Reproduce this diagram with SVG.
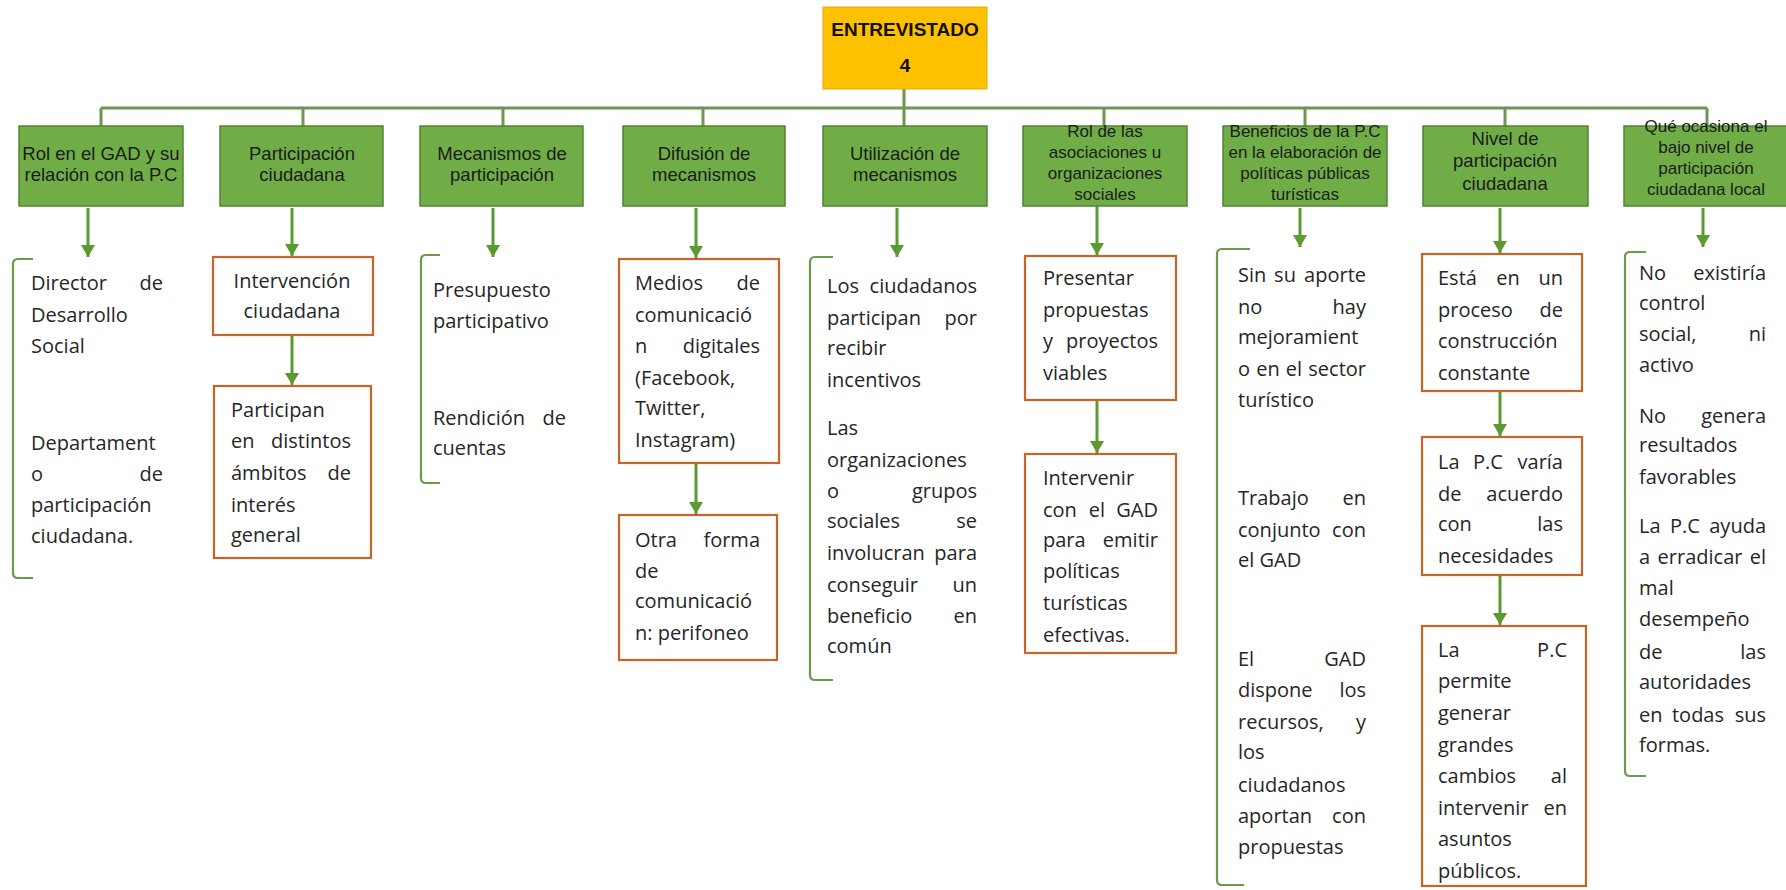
<svg xmlns="http://www.w3.org/2000/svg" width="1786" height="890" viewBox="0 0 1786 890">
<style>
.bg{fill:#ffffff}
.hb{fill:#70AD47;stroke:#548235;stroke-width:1.5}
.top{fill:#FFC000;stroke:#E6AC00;stroke-width:1}
.ob{fill:#ffffff;stroke:#C8642A;stroke-width:2.2}
.h{font-family:"Liberation Sans",Arial,sans-serif;font-size:18.5px;fill:#1b1b1b;text-anchor:middle}
.h4{font-family:"Liberation Sans",Arial,sans-serif;font-size:17px;fill:#1b1b1b;text-anchor:middle}
.tt{font-family:"Liberation Sans",Arial,sans-serif;font-size:19px;font-weight:bold;fill:#111;text-anchor:middle}
.t{font-family:"Open Sans","Liberation Sans",sans-serif;font-size:20px;fill:#262626}
.e{text-anchor:end}
.m{text-anchor:middle}
.bus{fill:none;stroke:#6E9652;stroke-width:3}
.arr{fill:none;stroke:#5B9A30;stroke-width:3;marker-end:url(#ah)}
.br{fill:none;stroke:#6A9A4A;stroke-width:2.2}
</style>
<defs>
<marker id="ah" markerUnits="userSpaceOnUse" markerWidth="14" markerHeight="14" refX="12" refY="7" orient="auto">
<path d="M0,0 L12,7 L0,14 z" fill="#5B9A30"/>
</marker>
</defs>
<rect class="bg" x="0" y="0" width="1786" height="890"/>

<g id="connectors">
<path class="bus" d="M904,89 V108 M101,108 H1707 M101,108 V126 M303,108 V126 M503,108 V126 M703,108 V126 M904,108 V126 M1104,108 V126 M1305,108 V126 M1505,108 V126 M1707,108 V126"/>
<path class="arr" d="M88,208 V257"/>
<path class="arr" d="M292,208 V256"/>
<path class="arr" d="M292,336 V385"/>
<path class="arr" d="M493,208 V257"/>
<path class="arr" d="M696,208 V258"/>
<path class="arr" d="M696,464 V514"/>
<path class="arr" d="M897,208 V257"/>
<path class="arr" d="M1097,206 V255"/>
<path class="arr" d="M1097,401 V453"/>
<path class="arr" d="M1300,208 V247"/>
<path class="arr" d="M1500,208 V253"/>
<path class="arr" d="M1500,392 V436"/>
<path class="arr" d="M1500,576 V625"/>
<path class="arr" d="M1703,208 V247"/>
<path class="br" d="M33,259 H18 Q13,259 13,264 V573 Q13,578 18,578 H33"/>
<path class="br" d="M440,255 H426 Q421,255 421,260 V478 Q421,483 426,483 H440"/>
<path class="br" d="M833,257 H815 Q810,257 810,262 V675 Q810,680 815,680 H833"/>
<path class="br" d="M1250,249 H1222 Q1217,249 1217,254 V880 Q1217,885 1222,885 H1244"/>
<path class="br" d="M1646,252 H1630 Q1625,252 1625,257 V771 Q1625,776 1630,776 H1646"/>
</g>

<g id="root">
<rect class="top" x="823" y="7" width="164" height="82"/>
<text class="tt" x="905" y="36">ENTREVISTADO</text>
<text class="tt" x="905" y="72">4</text>
</g>

<g id="h1"><rect class="hb" x="19" y="126" width="164" height="80"/>
<text class="h" x="101" y="160">Rol en el GAD y su</text><text class="h" x="101" y="181">relación con la P.C</text></g>
<g id="h2"><rect class="hb" x="220" y="126" width="163" height="80"/>
<text class="h" x="302" y="160">Participación</text><text class="h" x="302" y="181">ciudadana</text></g>
<g id="h3"><rect class="hb" x="420" y="126" width="163" height="80"/>
<text class="h" x="502" y="160">Mecanismos de</text><text class="h" x="502" y="181">participación</text></g>
<g id="h4"><rect class="hb" x="623" y="126" width="162" height="80"/>
<text class="h" x="704" y="160">Difusión de</text><text class="h" x="704" y="181">mecanismos</text></g>
<g id="h5"><rect class="hb" x="823" y="126" width="164" height="80"/>
<text class="h" x="905" y="160">Utilización de</text><text class="h" x="905" y="181">mecanismos</text></g>
<g id="h6"><rect class="hb" x="1023" y="126" width="164" height="80"/>
<text class="h4" x="1105" y="137">Rol de las</text><text class="h4" x="1105" y="158">asociaciones u</text><text class="h4" x="1105" y="179">organizaciones</text><text class="h4" x="1105" y="200">sociales</text></g>
<g id="h7"><rect class="hb" x="1223" y="126" width="164" height="80"/>
<text class="h4" x="1305" y="137">Beneficios de la P.C</text><text class="h4" x="1305" y="158">en la elaboración de</text><text class="h4" x="1305" y="179">políticas públicas</text><text class="h4" x="1305" y="200">turísticas</text></g>
<g id="h8"><rect class="hb" x="1423" y="126" width="165" height="80"/>
<text class="h" x="1505" y="145">Nivel de</text><text class="h" x="1505" y="167">participación</text><text class="h" x="1505" y="190">ciudadana</text></g>
<g id="h9"><rect class="hb" x="1624" y="126" width="166" height="80"/>
<text class="h4" x="1706" y="132">Qué ocasiona el</text><text class="h4" x="1706" y="153">bajo nivel de</text><text class="h4" x="1706" y="174">participación</text><text class="h4" x="1706" y="195">ciudadana local</text></g>

<g id="c1">
<text class="t" x="31" y="290">Director</text><text class="t e" x="163" y="290">de</text>
<text class="t" x="31" y="322">Desarrollo</text>
<text class="t" x="31" y="353">Social</text>
<text class="t" x="31" y="450">Departament</text>
<text class="t" x="31" y="481">o</text><text class="t e" x="163" y="481">de</text>
<text class="t" x="31" y="512">participación</text>
<text class="t" x="31" y="543">ciudadana.</text>
</g>

<g id="c2a"><rect class="ob" x="213" y="257" width="160" height="78"/>
<text class="t m" x="292" y="288">Intervención</text><text class="t m" x="292" y="318">ciudadana</text></g>
<g id="c2b"><rect class="ob" x="214" y="386" width="157" height="172"/>
<text class="t" x="231" y="417">Participan</text>
<text class="t" x="231" y="448">en</text><text class="t e" x="351" y="448">distintos</text>
<text class="t" x="231" y="480">ámbitos</text><text class="t e" x="351" y="480">de</text>
<text class="t" x="231" y="512">interés</text>
<text class="t" x="231" y="542">general</text></g>

<g id="c3">
<text class="t" x="433" y="297">Presupuesto</text>
<text class="t" x="433" y="328">participativo</text>
<text class="t" x="433" y="425">Rendición</text><text class="t e" x="566" y="425">de</text>
<text class="t" x="433" y="455">cuentas</text>
</g>

<g id="c4a"><rect class="ob" x="619" y="259" width="160" height="204"/>
<text class="t" x="635" y="290">Medios</text><text class="t e" x="760" y="290">de</text>
<text class="t" x="635" y="322">comunicació</text>
<text class="t" x="635" y="353">n</text><text class="t e" x="760" y="353">digitales</text>
<text class="t" x="635" y="385">(Facebook,</text>
<text class="t" x="635" y="415">Twitter,</text>
<text class="t" x="635" y="447">Instagram)</text></g>
<g id="c4b"><rect class="ob" x="619" y="515" width="158" height="145"/>
<text class="t" x="635" y="547">Otra</text><text class="t e" x="760" y="547">forma</text>
<text class="t" x="635" y="578">de</text>
<text class="t" x="635" y="608">comunicació</text>
<text class="t" x="635" y="640">n: perifoneo</text></g>

<g id="c5">
<text class="t" x="827" y="293">Los</text><text class="t e" x="977" y="293">ciudadanos</text>
<text class="t" x="827" y="325">participan</text><text class="t e" x="977" y="325">por</text>
<text class="t" x="827" y="355">recibir</text>
<text class="t" x="827" y="387">incentivos</text>
<text class="t" x="827" y="435">Las</text>
<text class="t" x="827" y="467">organizaciones</text>
<text class="t" x="827" y="498">o</text><text class="t e" x="977" y="498">grupos</text>
<text class="t" x="827" y="528">sociales</text><text class="t e" x="977" y="528">se</text>
<text class="t" x="827" y="560">involucran</text><text class="t e" x="977" y="560">para</text>
<text class="t" x="827" y="592">conseguir</text><text class="t e" x="977" y="592">un</text>
<text class="t" x="827" y="623">beneficio</text><text class="t e" x="977" y="623">en</text>
<text class="t" x="827" y="653">común</text>
</g>

<g id="c6a"><rect class="ob" x="1025" y="256" width="151" height="144"/>
<text class="t" x="1043" y="285">Presentar</text>
<text class="t" x="1043" y="317">propuestas</text>
<text class="t" x="1043" y="348">y</text><text class="t e" x="1158" y="348">proyectos</text>
<text class="t" x="1043" y="380">viables</text></g>
<g id="c6b"><rect class="ob" x="1025" y="454" width="151" height="199"/>
<text class="t" x="1043" y="485">Intervenir</text>
<text class="t" x="1043" y="517">con</text><text class="t m" x="1097" y="517">el</text><text class="t e" x="1158" y="517">GAD</text>
<text class="t" x="1043" y="547">para</text><text class="t e" x="1158" y="547">emitir</text>
<text class="t" x="1043" y="578">políticas</text>
<text class="t" x="1043" y="610">turísticas</text>
<text class="t" x="1043" y="642">efectivas.</text></g>

<g id="c7">
<text class="t" x="1238" y="282">Sin</text><text class="t m" x="1285" y="282">su</text><text class="t e" x="1366" y="282">aporte</text>
<text class="t" x="1238" y="314">no</text><text class="t e" x="1366" y="314">hay</text>
<text class="t" x="1238" y="344">mejoramient</text>
<text class="t" x="1238" y="376">o</text><text class="t m" x="1268" y="376">en</text><text class="t m" x="1294" y="376">el</text><text class="t e" x="1366" y="376">sector</text>
<text class="t" x="1238" y="407">turístico</text>
<text class="t" x="1238" y="505">Trabajo</text><text class="t e" x="1366" y="505">en</text>
<text class="t" x="1238" y="537">conjunto</text><text class="t e" x="1366" y="537">con</text>
<text class="t" x="1238" y="567">el GAD</text>
<text class="t" x="1238" y="666">El</text><text class="t e" x="1366" y="666">GAD</text>
<text class="t" x="1238" y="697">dispone</text><text class="t e" x="1366" y="697">los</text>
<text class="t" x="1238" y="729">recursos,</text><text class="t e" x="1366" y="729">y</text>
<text class="t" x="1238" y="759">los</text>
<text class="t" x="1238" y="792">ciudadanos</text>
<text class="t" x="1238" y="823">aportan</text><text class="t e" x="1366" y="823">con</text>
<text class="t" x="1238" y="854">propuestas</text>
</g>

<g id="c8a"><rect class="ob" x="1422" y="254" width="160" height="137"/>
<text class="t" x="1438" y="285">Está</text><text class="t m" x="1508" y="285">en</text><text class="t e" x="1563" y="285">un</text>
<text class="t" x="1438" y="317">proceso</text><text class="t e" x="1563" y="317">de</text>
<text class="t" x="1438" y="348">construcción</text>
<text class="t" x="1438" y="380">constante</text></g>
<g id="c8b"><rect class="ob" x="1422" y="437" width="160" height="138"/>
<text class="t" x="1438" y="469">La</text><text class="t m" x="1488" y="469">P.C</text><text class="t e" x="1563" y="469">varía</text>
<text class="t" x="1438" y="501">de</text><text class="t e" x="1563" y="501">acuerdo</text>
<text class="t" x="1438" y="531">con</text><text class="t e" x="1563" y="531">las</text>
<text class="t" x="1438" y="563">necesidades</text></g>
<g id="c8c"><rect class="ob" x="1422" y="626" width="164" height="260"/>
<text class="t" x="1438" y="657">La</text><text class="t e" x="1567" y="657">P.C</text>
<text class="t" x="1438" y="688">permite</text>
<text class="t" x="1438" y="720">generar</text>
<text class="t" x="1438" y="752">grandes</text>
<text class="t" x="1438" y="783">cambios</text><text class="t e" x="1567" y="783">al</text>
<text class="t" x="1438" y="815">intervenir</text><text class="t e" x="1567" y="815">en</text>
<text class="t" x="1438" y="846">asuntos</text>
<text class="t" x="1438" y="878">públicos.</text></g>

<g id="c9">
<text class="t" x="1639" y="280">No</text><text class="t e" x="1766" y="280">existiría</text>
<text class="t" x="1639" y="310">control</text>
<text class="t" x="1639" y="341">social,</text><text class="t e" x="1766" y="341">ni</text>
<text class="t" x="1639" y="372">activo</text>
<text class="t" x="1639" y="423">No</text><text class="t e" x="1766" y="423">genera</text>
<text class="t" x="1639" y="452">resultados</text>
<text class="t" x="1639" y="484">favorables</text>
<text class="t" x="1639" y="533">La</text><text class="t m" x="1685" y="533">P.C</text><text class="t e" x="1766" y="533">ayuda</text>
<text class="t" x="1639" y="564">a</text><text class="t m" x="1700" y="564">erradicar</text><text class="t e" x="1766" y="564">el</text>
<text class="t" x="1639" y="595">mal</text>
<text class="t" x="1639" y="626">desempeño</text>
<text class="t" x="1639" y="659">de</text><text class="t e" x="1766" y="659">las</text>
<text class="t" x="1639" y="689">autoridades</text>
<text class="t" x="1639" y="722">en</text><text class="t m" x="1698" y="722">todas</text><text class="t e" x="1766" y="722">sus</text>
<text class="t" x="1639" y="752">formas.</text>
</g>
</svg>
